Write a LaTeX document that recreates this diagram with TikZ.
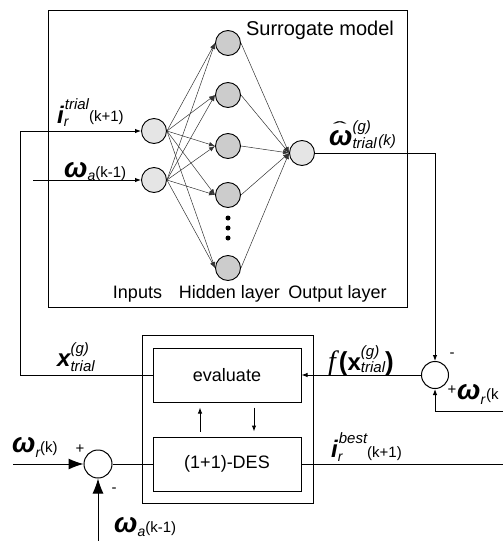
\documentclass[tikz,border=0pt]{standalone}
\usepackage{fontspec}
\usepackage{graphicx}
\setmainfont{Liberation Sans}
\newfontfamily\serifit{Liberation Serif}
\usetikzlibrary{arrows.meta}
\newcommand{\fsz}[1]{\fontsize{#1}{#1}\selectfont}
\newcommand{\Om}{{\fsz{28}\bfseries\itshape ω}}
\begin{document}
\begin{tikzpicture}[x=1pt,y=-1pt,
  neur/.style={circle, draw, line width=0.9pt, minimum size=25pt, inner sep=0pt},
  inp/.style={neur, fill=gray!20},
  hid/.style={neur, fill=gray!40},
  dotn/.style={circle, fill=black, inner sep=0pt, minimum size=5pt},
  nnedge/.style={draw=black!80, line width=0.5pt, -{Latex[length=6pt,width=4.5pt]}},
  wire/.style={line width=1pt},
  arr/.style={wire, -{Latex[length=6pt,width=4.5pt]}},
  bigarr/.style={wire, -{Latex[length=15pt,width=11pt]}},
  box/.style={draw, line width=1pt, inner sep=0pt},
  sumnode/.style={circle, draw, line width=1pt, minimum size=27pt, inner sep=0pt},
  lbl/.style={inner sep=0pt, anchor=base west},
  sgn/.style={inner sep=0pt, font=\fsz{15}},
  txt/.style={inner sep=0pt, font=\fsz{18}}]
\useasboundingbox (0,0) rectangle (503,541);

% surrogate model box
\node[box, minimum width=359pt, minimum height=297pt] (sbox) at (227.5,158.5) {};
\node[txt, font=\fsz{20}] (title) at (320,30) {Surrogate model};
\node[txt] (tin) at (137.5,294) {Inputs};
\node[txt] (thid) at (229.5,294) {Hidden layer};
\node[txt] (tout) at (337.5,294) {Output layer};

% neurons
\node[inp] (in1) at (154,131) {};
\node[inp] (in2) at (154,180) {};
\node[hid] (h1) at (228,43) {};
\node[hid] (h2) at (228,95) {};
\node[hid] (h3) at (228,146) {};
\node[hid] (h4) at (228,195) {};
\node[hid] (h5) at (228,268) {};
\node[dotn] (d1) at (228,218) {};
\node[dotn] (d2) at (228,228) {};
\node[dotn] (d3) at (228,238) {};
\node[inp] (out) at (302,153) {};

\foreach \i in {in1,in2}
  \foreach \h in {h1,h2,h3,h4,h5}
    \draw[nnedge] (\i.east) -- (\h.west);
\foreach \h in {h1,h2,h3,h4,h5}
  \draw[nnedge] (\h.east) -- (out.west);

% DES block
\node[box, minimum width=171pt, minimum height=168pt] (desbox) at (227.5,419) {};
\node[box, txt, draw, minimum width=148pt, minimum height=54pt] (eval) at (227,375) {evaluate};
\node[box, txt, draw, minimum width=148pt, minimum height=54pt] (des) at (227,464) {(1+1)-DES};
\draw[arr, shorten <=5pt, shorten >=5pt] ([xshift=-27pt]des.north) -- ([xshift=-27pt]eval.south);
\draw[arr, shorten <=5pt, shorten >=5pt] ([xshift=27pt]eval.south) -- ([xshift=27pt]des.north);

% summing junctions
\node[sumnode] (sumR) at (435,375) {};
\node[sumnode, minimum size=28pt] (sumL) at (98,464) {};

% connectors
\coordinate (fbL) at (20,131);
\coordinate (waIn) at (33,180);
\coordinate (wrR) at (503,411);
\coordinate (wrL) at (13,464);
\coordinate (waB) at (98,541);
\coordinate (bestOut) at (503,464);
\draw[arr] (out.east) -| (sumR.north);
\draw[arr] (sumR.west) -- (eval.east);
\draw[arr] (eval.west) -| (fbL) -- (in1.west);
\draw[arr] (waIn) -- (in2.west);
\draw[arr] (wrR) -| (sumR.south);
\draw[bigarr] (wrL) -- (sumL.west);
\draw[bigarr] (waB) -- (sumL.south);
\draw[wire] (sumL.east) -- (des.west);
\draw[wire] (des.east) -- (bestOut);

% labels
\node[lbl] (lir) at (57,123) {{\fsz{24}\bfseries\itshape i}\rlap{\raisebox{-3pt}{\fsz{14}\itshape r}}\hspace{1pt}\raisebox{14pt}{\fsz{15}\itshape trial}\raisebox{2pt}{\fsz{15}(k+1)}};
\node[lbl] (lwa) at (64,177) {\Om\raisebox{-3pt}{\fsz{14}\itshape a}{\fsz{15}(k-1)}};
\node[lbl] (lwh) at (329,145) {\rlap{\raisebox{12pt}{\hspace{4pt}\scalebox{2.3}[0.9]{\fsz{18}ˆ}}}\Om\rlap{\raisebox{14pt}{\fsz{15}\itshape (g)}}\raisebox{-3pt}{\fsz{15}\itshape trial}\,{\fsz{15}\itshape (k)}};
\node[lbl] (lx) at (57,366) {{\fsz{24}\bfseries\itshape x}\rlap{\raisebox{13pt}{\fsz{15}\itshape (g)}}\raisebox{-5pt}{\fsz{15}\itshape trial}};
\node[lbl] (lf) at (328,370) {{\serifit\itshape\fsz{28}f}\hspace{3pt}{\fsz{26}\bfseries(}{\fsz{24}\bfseries x}\rlap{\raisebox{14pt}{\fsz{15}\itshape (g)}}\raisebox{-2pt}{\fsz{15}\itshape trial}{\fsz{26}\bfseries)}};
\node[sgn] (mR) at (452,355) {-};
\node[sgn] (pR) at (452,390) {+};
\node[lbl] (lwrR) at (457,399) {\Om\raisebox{-5pt}{\fsz{14}\itshape r}\hspace{1pt}{\fsz{15}(k}};
\node[lbl] (lwrL) at (12,452) {\Om\raisebox{-5pt}{\fsz{14}\itshape r}{\fsz{15}(k)}};
\node[sgn] (pL) at (80,449) {+};
\node[sgn] (mL) at (114,490) {-};
\node[lbl] (lwaB) at (114,532) {\Om\raisebox{-4pt}{\fsz{14}\itshape a}{\fsz{15}(k-1)}};
\node[lbl] (lbest) at (331,457) {{\fsz{24}\bfseries\itshape i}\rlap{\raisebox{-4pt}{\fsz{14}\itshape r}}\hspace{1pt}\raisebox{14pt}{\fsz{15}\itshape best}{\fsz{15}(k+1)}};
\end{tikzpicture}
\end{document}
